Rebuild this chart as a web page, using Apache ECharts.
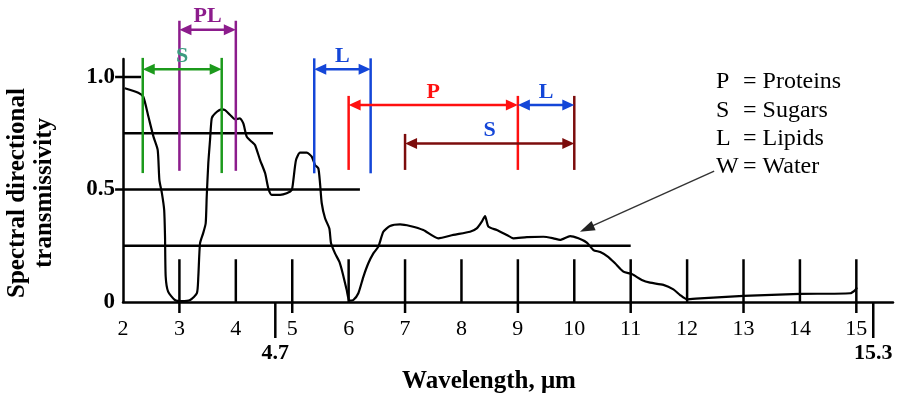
<!DOCTYPE html>
<html>
<head>
<meta charset="utf-8">
<script src="https://cdn.jsdelivr.net/npm/echarts@6/dist/echarts.min.js"></script>
<style>
  html, body { margin: 0; background: #fff; }
  #chart { width: 906px; height: 396px; }
</style>
</head>
<body>
<div id="chart"></div>
<script>
// traced curve
const wavelength = [2.03, 2.27, 2.36, 2.45, 2.54, 2.615, 2.645, 2.69, 2.73, 2.745, 2.757, 2.8, 2.92, 3.04, 3.19, 3.31, 3.335, 3.365, 3.42, 3.466, 3.484, 3.512, 3.543, 3.573, 3.631, 3.75, 3.81, 3.9, 3.986, 4.074, 4.133, 4.193, 4.282, 4.34, 4.43, 4.52, 4.576, 4.637, 4.784, 4.902, 4.991, 5.02, 5.067, 5.138, 5.257, 5.346, 5.404, 5.463, 5.493, 5.523, 5.582, 5.658, 5.688, 5.759, 5.835, 5.895, 5.966, 6.012, 6.083, 6.172, 6.261, 6.349, 6.438, 6.527, 6.615, 6.734, 6.911, 7.089, 7.324, 7.59, 7.856, 8.152, 8.271, 8.36, 8.418, 8.477, 8.626, 8.803, 8.92, 9.158, 9.452, 9.629, 9.748, 9.926, 10.073, 10.222, 10.339, 10.46, 10.6, 10.723, 10.87, 11.02, 11.197, 11.344, 11.58, 11.757, 11.876, 11.995, 12.23, 13.0, 14.0, 14.89, 14.98, 15.01];
const transmissivity = [0.95, 0.93, 0.912, 0.824, 0.735, 0.676, 0.542, 0.483, 0.409, 0.29, 0.112, 0.046, 0.009, 0.004, 0.009, 0.039, 0.112, 0.26, 0.305, 0.35, 0.468, 0.616, 0.72, 0.816, 0.838, 0.856, 0.853, 0.831, 0.812, 0.816, 0.794, 0.735, 0.712, 0.698, 0.631, 0.572, 0.505, 0.476, 0.476, 0.483, 0.498, 0.542, 0.631, 0.664, 0.664, 0.646, 0.609, 0.594, 0.527, 0.439, 0.372, 0.327, 0.261, 0.216, 0.179, 0.127, 0.053, 0.006, 0.009, 0.039, 0.112, 0.172, 0.216, 0.246, 0.312, 0.338, 0.345, 0.338, 0.32, 0.283, 0.298, 0.312, 0.327, 0.357, 0.382, 0.335, 0.32, 0.298, 0.283, 0.288, 0.29, 0.283, 0.276, 0.293, 0.283, 0.264, 0.231, 0.222, 0.201, 0.172, 0.135, 0.124, 0.098, 0.086, 0.076, 0.056, 0.031, 0.012, 0.016, 0.027, 0.036, 0.039, 0.053, 0.065];

// ticks drawn inside the plot
const tickUp = [3, 4, 5, 6, 7, 8, 9, 10, 11, 12, 13, 14, 15];
const tickDown = [3, 5, 7, 9, 11, 13, 15];
const extraTicks = [4.7, 15.3];

// horizontal reference lines
const refLevels = [1.0, 0.75, 0.5, 0.25];
const refStart = [1.86, 2.0, 1.86, 2.0];
const refEnd = [2.32, 4.66, 6.2, 11.0];

// absorption band markers (vertical lines)
const markerX = [2.35, 3.75, 3.0, 4.0, 5.39, 6.39, 6.0, 9.0, 7.0, 10.0];
const markerTop = [1.085, 1.085, 1.25, 1.25, 1.083, 1.083, 0.916, 0.916, 0.747, 0.916];
const markerBottom = [0.573, 0.573, 0.583, 0.583, 0.572, 0.572, 0.587, 0.587, 0.587, 0.587];

// bands (arrows + labels)
const bandNames = ['S', 'PL', 'L', 'P', 'L', 'S'];
const bandFrom = [2.35, 3.0, 5.39, 6.0, 9.0, 7.0];
const bandTo = [3.75, 4.0, 6.39, 9.0, 10.0, 10.0];
const bandLevel = [1.035, 1.21, 1.035, 0.876, 0.876, 0.705];

// legend
const legendKeys = ['P', 'S', 'L', 'W'];
const legendNames = ['Proteins', 'Sugars', 'Lipids', 'Water'];
const waterArrow = [[12.48, 0.582], [10.1, 0.312]];

const serif = '"Liberation Serif", "Times New Roman", serif';
const GREEN = '#1c9a1c', PURPLE = '#8c1c8c', BLUE = '#1446d8', RED = '#ff1010', MAROON = '#7c0c0c';
const markerColor = [GREEN, GREEN, PURPLE, PURPLE, BLUE, BLUE, RED, RED, MAROON, MAROON];
const bandColor = [GREEN, PURPLE, BLUE, RED, BLUE, MAROON];
const labelColor = ['#3c9c80', PURPLE, BLUE, RED, BLUE, BLUE];

function head(tip, from, len, half, color) {
  const dx = tip[0] - from[0], dy = tip[1] - from[1];
  const d = Math.sqrt(dx * dx + dy * dy) || 1;
  const ux = dx / d, uy = dy / d;
  const bx = tip[0] - ux * len, by = tip[1] - uy * len;
  return {
    type: 'polygon',
    shape: { points: [tip, [bx - uy * half, by + ux * half], [bx + uy * half, by - ux * half]] },
    style: { fill: color }
  };
}

const option = {
  animation: false,
  grid: { left: 123, right: 13, top: 59, bottom: 94 },
  xAxis: {
    type: 'value',
    min: 2,
    max: 15.65,
    interval: 1,
    axisLine: { lineStyle: { color: '#000', width: 2.5 } },
    axisTick: { show: false },
    splitLine: { show: false },
    axisLabel: { color: '#000', fontFamily: serif, fontSize: 22, margin: 16, showMaxLabel: false }
  },
  yAxis: {
    type: 'value',
    min: 0,
    max: 1.08,
    interval: 0.5,
    axisLine: { show: true, lineStyle: { color: '#000', width: 2.5 } },
    axisTick: { show: false },
    splitLine: { show: false },
    axisLabel: {
      color: '#000', fontFamily: serif, fontSize: 23, fontWeight: 'bold', margin: 8, showMaxLabel: false,
      formatter: v => (v === 0 ? '0' : v.toFixed(1))
    }
  },
  graphic: [
    {
      type: 'text', x: 31, y: 193, rotation: Math.PI / 2,
      style: {
        text: 'Spectral directional\ntransmissivity', font: 'bold 25px ' + serif,
        fill: '#000', align: 'center', verticalAlign: 'middle', lineHeight: 27
      }
    },
    {
      type: 'text', x: 489, y: 382,
      style: { text: 'Wavelength, μm', font: 'bold 25px ' + serif, fill: '#000', align: 'center', verticalAlign: 'middle' }
    }
  ].concat(legendKeys.map((k, i) => ({
    type: 'text', x: 716, y: 82 + i * 28.3,
    style: { text: k, font: '24px ' + serif, fill: '#000', verticalAlign: 'middle' }
  }))).concat(legendNames.map((n, i) => ({
    type: 'text', x: 743, y: 82 + i * 28.3,
    style: { text: '= ' + n, font: '24px ' + serif, fill: '#000', verticalAlign: 'middle' }
  }))),
  series: [
    {
      type: 'custom',
      clip: false,
      data: refLevels.map((y, i) => [refStart[i], refEnd[i], y]),
      renderItem: (params, api) => {
        const a = api.coord([api.value(0), api.value(2)]);
        const b = api.coord([api.value(1), api.value(2)]);
        return { type: 'line', shape: { x1: a[0], y1: a[1], x2: b[0], y2: b[1] }, style: { stroke: '#000', lineWidth: 2.5 } };
      }
    },
    {
      type: 'custom',
      clip: false,
      data: tickUp.map(x => [x, tickDown.indexOf(x) >= 0 ? 1 : 0]),
      renderItem: (params, api) => {
        const a = api.coord([api.value(0), 0.19]);
        const b = api.coord([api.value(0), 0]);
        return {
          type: 'line',
          shape: { x1: a[0], y1: a[1], x2: b[0], y2: b[1] + (api.value(1) ? 11 : 0) },
          style: { stroke: '#000', lineWidth: 2.5 }
        };
      }
    },
    {
      type: 'custom',
      clip: false,
      data: extraTicks.map(x => [x]),
      renderItem: (params, api) => {
        const x = api.value(0);
        const b = api.coord([x, 0]);
        return {
          type: 'group',
          children: [
            { type: 'line', shape: { x1: b[0], y1: b[1], x2: b[0], y2: b[1] + 36 }, style: { stroke: '#000', lineWidth: 2.5 } },
            {
              type: 'text', x: b[0], y: b[1] + 51,
              style: { text: String(x), font: 'bold 22px ' + serif, fill: '#000', align: 'center', verticalAlign: 'middle' }
            }
          ]
        };
      }
    },
    {
      type: 'line',
      data: wavelength.map((x, i) => [x, transmissivity[i]]),
      showSymbol: false,
      smooth: 0.2,
      lineStyle: { color: '#000', width: 2.2 },
      z: 3
    },
    {
      type: 'custom',
      clip: false,
      z: 4,
      data: markerX.map((x, i) => [x, markerTop[i], markerBottom[i], i]),
      renderItem: (params, api) => {
        const a = api.coord([api.value(0), api.value(1)]);
        const b = api.coord([api.value(0), api.value(2)]);
        return { type: 'line', shape: { x1: a[0], y1: a[1], x2: b[0], y2: b[1] }, style: { stroke: markerColor[api.value(3)], lineWidth: 2.5 } };
      }
    },
    {
      type: 'custom',
      clip: false,
      z: 5,
      data: bandFrom.map((x, i) => [x, bandTo[i], bandLevel[i], i]),
      renderItem: (params, api) => {
        const i = api.value(3);
        const a = api.coord([api.value(0), api.value(2)]);
        const b = api.coord([api.value(1), api.value(2)]);
        const c = bandColor[i];
        return {
          type: 'group',
          children: [
            { type: 'line', shape: { x1: a[0] + 8, y1: a[1], x2: b[0] - 8, y2: b[1] }, style: { stroke: c, lineWidth: 2.5 } },
            head(a, b, 12, 5.5, c),
            head(b, a, 12, 5.5, c),
            {
              type: 'text', x: (a[0] + b[0]) / 2, y: a[1] - 13,
              style: { text: bandNames[i], font: 'bold 22px ' + serif, fill: labelColor[i], align: 'center', verticalAlign: 'middle' }
            }
          ]
        };
      }
    },
    {
      type: 'custom',
      clip: false,
      z: 5,
      data: [[waterArrow[0][0], waterArrow[0][1], waterArrow[1][0], waterArrow[1][1]]],
      renderItem: (params, api) => {
        const a = api.coord([api.value(0), api.value(1)]);
        const b = api.coord([api.value(2), api.value(3)]);
        return {
          type: 'group',
          children: [
            { type: 'line', shape: { x1: a[0], y1: a[1], x2: b[0] + 8, y2: b[1] - 4 }, style: { stroke: '#333', lineWidth: 1.4 } },
            head(b, a, 15, 5, '#222')
          ]
        };
      }
    }
  ]
};

const myChart = echarts.init(document.getElementById('chart'));
myChart.setOption(option);
window.addEventListener('resize', function () {
  myChart.resize();
});
</script>
</body>
</html>
